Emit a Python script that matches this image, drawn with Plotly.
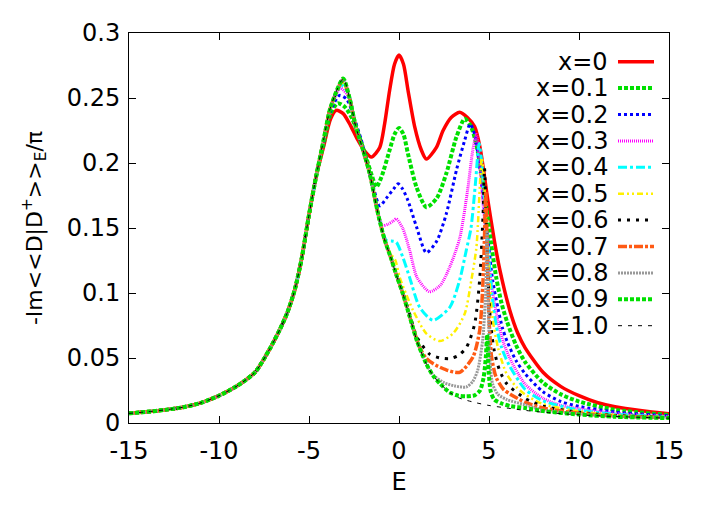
import plotly.graph_objects as go

# shared left flank (all curves coincide here)
E_flank = [-15, -14, -13, -12, -11, -10, -9, -8, -7.2, -6.6, -6.2, -5.8, -5.4, -5.0, -4.6]
Y_flank = [0.0074, 0.0086, 0.0101, 0.0121, 0.0155, 0.0210, 0.0285, 0.0390, 0.0565, 0.0725,
           0.0850, 0.1020, 0.1270, 0.1600, 0.1900]

E_x00 = [-4.2, -3.8, -3.48, -3.1, -2.7, -2.3, -1.95, -1.53, -1.07, -0.8, -0.52, -0.25, 0, 0.25, 0.5,
         0.87, 1.24, 1.52, 2.08, 2.45, 2.9, 3.37, 3.8, 4.2, 4.5, 4.94, 5.3, 5.6, 6.15, 6.6, 7.0, 8.0,
         9.0, 10.0, 11.0, 12.0, 13.5, 15]
Y_x00 = [0.212, 0.234, 0.2405, 0.238, 0.229, 0.218, 0.210, 0.2046, 0.212, 0.230, 0.256, 0.276, 0.283,
         0.276, 0.256, 0.228, 0.210, 0.203, 0.212, 0.225, 0.235, 0.239, 0.235, 0.228, 0.212, 0.171,
         0.140, 0.118, 0.087, 0.069, 0.058, 0.039, 0.028, 0.021, 0.0158, 0.0125, 0.0095, 0.0072]

E_x01 = [-4.2, -3.8, -3.4, -3.0, -2.6, -2.2, -1.8, -1.5, -1.26, -0.98, -0.52, -0.25, 0, 0.25, 0.5,
         0.97, 1.52, 2.1, 2.63, 3.19, 3.65, 4.0, 4.3, 4.6, 4.8, 5.1, 5.4, 5.7, 6.0, 6.5, 7.0, 8.0,
         9.0, 10.0, 12.0, 15]
Y_x01 = [0.214, 0.238, 0.246, 0.243, 0.234, 0.220, 0.203, 0.190, 0.1815, 0.189, 0.210, 0.222, 0.227,
         0.222, 0.207, 0.1815, 0.166, 0.173, 0.192, 0.220, 0.234, 0.228, 0.214, 0.190, 0.171, 0.140,
         0.112, 0.092, 0.078, 0.060, 0.047, 0.031, 0.022, 0.0165, 0.0102, 0.0062]

E_x02 = [-4.2, -3.8, -3.3, -2.9, -2.5, -2.1, -1.7, -1.4, -1.07, -0.7, -0.3, -0.05, 0.2, 0.5, 0.97,
         1.52, 2.1, 2.63, 3.2, 3.65, 3.95, 4.2, 4.45, 4.7, 4.95, 5.2, 5.5, 5.75, 6.0, 6.5, 7.0, 8.0,
         9.0, 10.0, 12.0, 15]
Y_x02 = [0.215, 0.240, 0.252, 0.249, 0.235, 0.218, 0.196, 0.180, 0.167, 0.173, 0.180, 0.184, 0.180,
         0.171, 0.151, 0.131, 0.140, 0.161, 0.195, 0.2175, 0.230, 0.222, 0.200, 0.170, 0.140, 0.110,
         0.088, 0.073, 0.063, 0.048, 0.038, 0.024, 0.0165, 0.0128, 0.0085, 0.0055]

E_x03 = [-4.2, -3.8, -3.25, -2.85, -2.45, -2.0, -1.63, -1.25, -0.9, -0.6, -0.35, -0.15, 0.2, 0.59,
         1.0, 1.7, 2.3, 2.82, 3.37, 3.8, 4.1, 4.3, 4.45, 4.65, 4.9, 5.15, 5.5, 5.8, 6.15, 7.0, 8.0,
         9.0, 10.0, 12.0, 15]
Y_x03 = [0.216, 0.242, 0.2575, 0.252, 0.230, 0.209, 0.192, 0.166, 0.152, 0.153, 0.155, 0.157, 0.150,
         0.133, 0.112, 0.101, 0.106, 0.120, 0.142, 0.178, 0.210, 0.222, 0.205, 0.172, 0.135, 0.105,
         0.078, 0.062, 0.050, 0.030, 0.019, 0.0135, 0.011, 0.0075, 0.005]

E_x04 = [-4.2, -3.8, -3.2, -2.8, -2.4, -2.0, -1.63, -1.15, -0.7, -0.4, -0.15, 0.2, 0.59, 1.15, 1.89,
         2.82, 3.37, 3.74, 4.0, 4.25, 4.45, 4.6, 4.8, 5.0, 5.2, 5.4, 5.7, 6.1, 7.0, 8.0, 10.0, 12.0, 15]
Y_x04 = [0.217, 0.243, 0.260, 0.253, 0.229, 0.210, 0.192, 0.160, 0.1405, 0.140, 0.139, 0.128, 0.112,
         0.089, 0.079, 0.089, 0.110, 0.133, 0.150, 0.185, 0.215, 0.200, 0.160, 0.125, 0.095, 0.075,
         0.058, 0.045, 0.026, 0.017, 0.010, 0.0068, 0.0047]

E_x05 = [-4.2, -3.8, -3.15, -2.75, -2.4, -2.0, -1.63, -1.15, -0.8, -0.45, -0.2, 0.04, 0.4, 0.78,
         1.52, 2.26, 3.0, 3.65, 4.02, 4.3, 4.6, 4.75, 4.9, 5.05, 5.2, 5.5, 5.97, 6.5, 7.0, 8.0, 10.0,
         12.0, 15]
Y_x05 = [0.217, 0.243, 0.262, 0.250, 0.228, 0.210, 0.192, 0.160, 0.141, 0.130, 0.125, 0.112, 0.099,
         0.0867, 0.0688, 0.063, 0.0688, 0.084, 0.110, 0.135, 0.204, 0.180, 0.140, 0.105, 0.080,
         0.058, 0.038, 0.028, 0.022, 0.0145, 0.009, 0.0062, 0.0045]

E_x06 = [-4.2, -3.8, -3.12, -2.75, -2.4, -2.0, -1.63, -1.15, -0.8, -0.45, -0.15, 0.2, 0.59, 1.0,
         1.7, 2.3, 2.82, 3.3, 3.74, 4.2, 4.48, 4.67, 4.75, 4.85, 4.97, 5.1, 5.3, 5.6, 6.0, 7.0, 8.0,
         10.0, 12.0, 15]
Y_x06 = [0.217, 0.243, 0.263, 0.250, 0.228, 0.210, 0.192, 0.160, 0.141, 0.127, 0.114, 0.101, 0.084,
         0.066, 0.053, 0.050, 0.0495, 0.052, 0.058, 0.076, 0.110, 0.160, 0.196, 0.150, 0.105, 0.075,
         0.055, 0.040, 0.030, 0.019, 0.013, 0.0082, 0.0058, 0.0043]

E_x07 = [-4.2, -3.8, -3.1, -2.75, -2.4, -2.0, -1.63, -1.15, -0.8, -0.45, -0.15, 0.2, 0.59, 1.15,
         1.5, 1.89, 2.6, 3.37, 4.11, 4.48, 4.67, 4.76, 4.82, 4.92, 5.02, 5.15, 5.4, 5.8, 6.2, 7.0,
         8.0, 10.0, 12.0, 15]
Y_x07 = [0.217, 0.243, 0.264, 0.250, 0.228, 0.210, 0.192, 0.160, 0.141, 0.127, 0.114, 0.100, 0.082,
         0.058, 0.050, 0.0457, 0.041, 0.039, 0.0508, 0.071, 0.110, 0.148, 0.178, 0.120, 0.075, 0.050,
         0.035, 0.026, 0.022, 0.016, 0.0115, 0.0075, 0.0054, 0.0041]

E_x08 = [-4.2, -3.8, -3.1, -2.75, -2.4, -2.0, -1.63, -1.15, -0.8, -0.45, -0.15, 0.2, 0.59, 1.0,
         1.5, 1.89, 2.5, 3.1, 3.74, 4.1, 4.37, 4.65, 4.82, 4.88, 4.96, 5.05, 5.2, 5.5, 6.0, 7.0, 8.0,
         10.0, 12.0, 15]
Y_x08 = [0.217, 0.243, 0.265, 0.250, 0.228, 0.210, 0.192, 0.160, 0.141, 0.127, 0.114, 0.100, 0.082,
         0.063, 0.046, 0.037, 0.031, 0.0285, 0.0277, 0.032, 0.0405, 0.064, 0.102, 0.147, 0.090, 0.050,
         0.030, 0.022, 0.018, 0.014, 0.010, 0.007, 0.005, 0.0040]

E_x09 = [-4.2, -3.8, -3.1, -2.75, -2.4, -2.0, -1.63, -1.15, -0.8, -0.45, -0.15, 0.2, 0.59, 1.0,
         1.5, 1.89, 2.3, 2.82, 3.3, 3.74, 4.2, 4.5, 4.7, 4.82, 4.9, 4.98, 5.1, 5.3, 5.7, 6.2, 7.0,
         8.0, 10.0, 12.0, 15]
Y_x09 = [0.217, 0.243, 0.265, 0.250, 0.228, 0.210, 0.192, 0.160, 0.141, 0.127, 0.114, 0.100, 0.082,
         0.063, 0.046, 0.0365, 0.030, 0.0235, 0.021, 0.0205, 0.0213, 0.025, 0.035, 0.050, 0.068,
         0.040, 0.024, 0.018, 0.015, 0.013, 0.0115, 0.0092, 0.0065, 0.0048, 0.0038]

E_x10 = [-4.2, -3.8, -3.1, -2.75, -2.4, -2.0, -1.63, -1.15, -0.8, -0.45, -0.15, 0.2, 0.59, 1.0,
         1.5, 1.89, 2.3, 2.82, 3.3, 3.74, 4.3, 5.0, 6.0, 7.0, 8.0, 10.0, 12.0, 15]
Y_x10 = [0.217, 0.243, 0.265, 0.250, 0.228, 0.210, 0.192, 0.160, 0.141, 0.127, 0.114, 0.100, 0.082,
         0.063, 0.046, 0.0365, 0.030, 0.0235, 0.0195, 0.0175, 0.0155, 0.0135, 0.0115, 0.0097, 0.0083,
         0.0063, 0.005, 0.0037]

labels = ["x=0", "x=0.1", "x=0.2", "x=0.3", "x=0.4", "x=0.5", "x=0.6", "x=0.7", "x=0.8", "x=0.9", "x=1.0"]
E_sets = [E_x00, E_x01, E_x02, E_x03, E_x04, E_x05, E_x06, E_x07, E_x08, E_x09, E_x10]
Y_sets = [Y_x00, Y_x01, Y_x02, Y_x03, Y_x04, Y_x05, Y_x06, Y_x07, Y_x08, Y_x09, Y_x10]

colors = ["#ff0000", "#00e000", "#0000ff", "#ff00ff", "#00ffff", "#fff000",
          "#000000", "#ff5a14", "#999999", "#00e000", "#000000"]
dashes = ["solid", "4px,2px", "3px,3px", "1px,1px", "9px,3px,3px,3px", "6px,3px,2px,3px,2px,3px",
          "3px,6px", "9px,2px,3px,2px", "2px,1px", "4px,2px", "4px,6px"]
widths = [3.5, 4, 3, 3, 3, 2.5, 3, 3.5, 3, 4, 1]

x_ticks = [-15, -10, -5, 0, 5, 10, 15]
x_ticktext = ["-15", "-10", "-5", "0", "5", "10", "15"]
y_ticks = [0, 0.05, 0.1, 0.15, 0.2, 0.25, 0.3]
y_ticktext = ["0", "0.05", "0.1", "0.15", "0.2", "0.25", "0.3"]

FONT = "DejaVu Sans"
# page body adds an 8px offset; plot area targets x 129-669, y 33-423 in the window
OFF = 8
ML, MT, PW, PH = 129 - OFF, 33 - OFF, 540, 390

fig = go.Figure()
for i in range(len(labels)):
    fig.add_trace(go.Scatter(
        x=E_flank + E_sets[i], y=Y_flank + Y_sets[i], mode="lines", name=labels[i],
        line=dict(color=colors[i], dash=dashes[i], width=widths[i], shape="spline", smoothing=0.7),
        showlegend=False))

# gnuplot-style key: right-aligned text followed by a line sample
for i, lab in enumerate(labels):
    py = 61.7 + 26.4 * i
    yp = (423 - py) / PH
    fig.add_annotation(x=(610 - 129) / PW, y=yp, xref="paper", yref="paper", text=lab,
                       showarrow=False, xanchor="right", yanchor="middle",
                       font=dict(family=FONT, size=24, color="black"))
    fig.add_shape(type="line", xref="paper", yref="paper",
                  x0=(618 - 129) / PW, x1=(654 - 129) / PW, y0=yp, y1=yp,
                  line=dict(color=colors[i], dash=dashes[i], width=widths[i]))

axis_common = dict(showline=True, linecolor="black", linewidth=1, mirror="allticks",
                   ticks="inside", ticklen=7, tickwidth=1, tickcolor="black",
                   showgrid=False, zeroline=False, automargin=False,
                   tickfont=dict(family=FONT, size=24, color="black"))
fig.update_xaxes(range=[-15, 15], tickvals=x_ticks, ticktext=x_ticktext, ticklabelstandoff=6,
                 title=dict(text="E", font=dict(family=FONT, size=24, color="black"), standoff=9),
                 **axis_common)
fig.update_yaxes(range=[0, 0.3], tickvals=y_ticks, ticktext=y_ticktext, ticklabelstandoff=3,
                 title=dict(text="-Im<<D|D<sup>+</sup>>><sub>E</sub>/π",
                            font=dict(family=FONT, size=22, color="black"), standoff=18),
                 **axis_common)
fig.update_layout(width=ML + PW + 37, height=MT + PH + 101,
                  margin=dict(l=ML, r=37, t=MT, b=101),
                  paper_bgcolor="white", plot_bgcolor="white",
                  font=dict(family=FONT, size=24, color="black"))
fig.write_html("out.html")
